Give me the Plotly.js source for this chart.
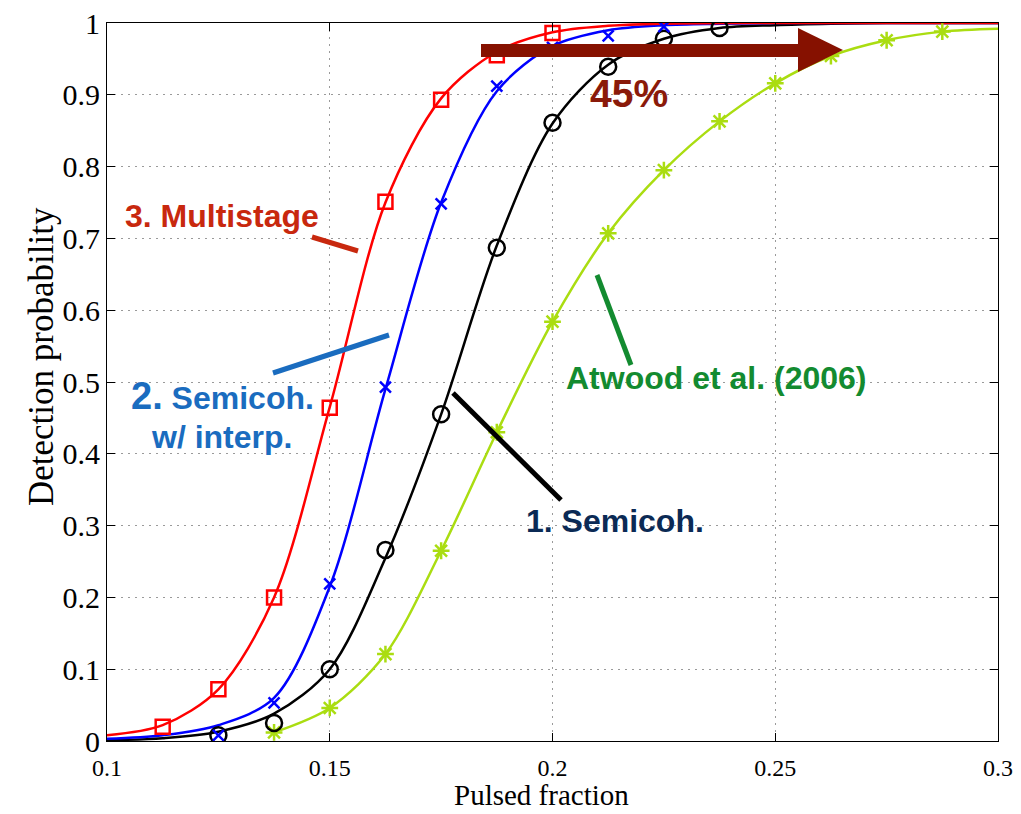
<!DOCTYPE html>
<html>
<head>
<meta charset="utf-8">
<script src="https://cdn.plot.ly/plotly-3.0.1.min.js"></script>
<style>html,body{margin:0;padding:0;background:#fff;}#chart{width:1021px;height:814px;}</style>
</head>
<body>
<div id="chart"></div>
<script>
// ---- data ----
const multiMarkX = [0.1125, 0.125, 0.1375, 0.15, 0.1625, 0.175, 0.1875, 0.2];
const multiMarkY = [0.02, 0.072, 0.2, 0.464, 0.751, 0.893, 0.955, 0.986];
const multiCurveX = [0.1, 0.1125, 0.125, 0.1375, 0.15, 0.1625, 0.175, 0.1875, 0.2, 0.2125, 0.225, 0.25, 0.3];
const multiCurveY = [0.008, 0.022, 0.072, 0.2, 0.465, 0.75, 0.895, 0.96, 0.987, 0.996, 0.999, 1, 1];

const interpMarkX = [0.125, 0.1375, 0.15, 0.1625, 0.175, 0.1875, 0.2, 0.2125, 0.225];
const interpMarkY = [0.008, 0.053, 0.219, 0.493, 0.748, 0.912, 0.966, 0.982, 0.995];
const interpCurveX = [0.1, 0.1125, 0.125, 0.1375, 0.15, 0.1625, 0.175, 0.1875, 0.2, 0.2125, 0.225, 0.2375, 0.25, 0.3];
const interpCurveY = [0.003, 0.008, 0.022, 0.06, 0.215, 0.49, 0.75, 0.905, 0.968, 0.99, 0.997, 0.999, 1, 1];

const semiMarkX = [0.125, 0.1375, 0.15, 0.1625, 0.175, 0.1875, 0.2, 0.2125, 0.225, 0.2375];
const semiMarkY = [0.008, 0.025, 0.1, 0.266, 0.455, 0.687, 0.861, 0.939, 0.978, 0.993];
const semiCurveX = [0.1, 0.1125, 0.125, 0.1375, 0.15, 0.1625, 0.175, 0.1875, 0.2, 0.2125, 0.225, 0.2375, 0.25, 0.2625, 0.275, 0.3];
const semiCurveY = [0.001, 0.004, 0.013, 0.038, 0.1, 0.255, 0.455, 0.69, 0.86, 0.942, 0.978, 0.993, 0.997, 0.999, 1, 1];

const atwoodMarkX = [0.1375, 0.15, 0.1625, 0.175, 0.1875, 0.2, 0.2125, 0.225, 0.2375, 0.25, 0.2625, 0.275, 0.2875];
const atwoodMarkY = [0.012, 0.046, 0.121, 0.265, 0.43, 0.584, 0.707, 0.795, 0.863, 0.916, 0.954, 0.976, 0.988];
const atwoodCurveX = [0.1375, 0.15, 0.1625, 0.175, 0.1875, 0.2, 0.2125, 0.225, 0.2375, 0.25, 0.2625, 0.275, 0.2875, 0.3];
const atwoodCurveY = [0.012, 0.046, 0.121, 0.265, 0.43, 0.584, 0.707, 0.795, 0.863, 0.916, 0.954, 0.976, 0.988, 0.992];

const xTickVals = [0.1, 0.15, 0.2, 0.25, 0.3];
const xTickText = ['0.1', '0.15', '0.2', '0.25', '0.3'];
const yTickVals = [0, 0.1, 0.2, 0.3, 0.4, 0.5, 0.6, 0.7, 0.8, 0.9, 1];
const yTickText = ['0', '0.1', '0.2', '0.3', '0.4', '0.5', '0.6', '0.7', '0.8', '0.9', '1'];
const xTitle = 'Pulsed fraction';
const yTitle = 'Detection probability';

// ---- styling ----
const RED = '#ff0000', BLUE = '#0000ff', BLACK = '#000000', GREEN = '#aadd11';
const SERIF = 'Liberation Serif, Times New Roman, serif';
const SANS = 'Liberation Sans, Arial, Helvetica, sans-serif';

// pixel -> data/paper helpers for decorations (plot area: x 107..998, y 741..23)
const X = px => 0.1 + (px - 107) / 891 * 0.2;
const Y = py => (741 - py) / 718;
const PX = px => (px - 107) / 891;

function curve(x, y, color) {
  return {x: x, y: y, type: 'scatter', mode: 'lines', hoverinfo: 'skip',
    line: {color: color, width: 2.5, shape: 'spline', smoothing: 0.9}, showlegend: false};
}
function marks(x, y, color, symbol, size) {
  return {x: x, y: y, type: 'scatter', mode: 'markers', showlegend: false,
    marker: {symbol: symbol, size: size, color: color, line: {color: color, width: 2.5}}};
}

const traces = [
  curve(atwoodCurveX, atwoodCurveY, GREEN),
  curve(semiCurveX, semiCurveY, BLACK),
  curve(interpCurveX, interpCurveY, BLUE),
  curve(multiCurveX, multiCurveY, RED),
  marks(atwoodMarkX, atwoodMarkY, GREEN, 'asterisk-open', 14),
  marks(semiMarkX, semiMarkY, BLACK, 'circle-open', 16),
  marks(interpMarkX, interpMarkY, BLUE, 'x-thin-open', 11),
  marks(multiMarkX, multiMarkY, RED, 'square-open', 14)
];

const ARROW = '#861100';
const shapes = [
  {type: 'line', x0: X(312), y0: Y(237), x1: X(358), y1: Y(251), line: {color: '#c8280e', width: 5}},
  {type: 'line', x0: X(273), y0: Y(373), x1: X(389), y1: Y(335), line: {color: '#1a6cbf', width: 5}},
  {type: 'line', x0: X(453), y0: Y(393), x1: X(561), y1: Y(500), line: {color: BLACK, width: 5}},
  {type: 'line', x0: X(597), y0: Y(275), x1: X(631), y1: Y(365), line: {color: '#138b30', width: 5}},
  {type: 'rect', x0: X(481), y0: Y(44), x1: X(800), y1: Y(57), fillcolor: ARROW, line: {width: 0}},
  {type: 'path', path: 'M ' + X(798) + ' ' + Y(28) + ' L ' + X(843) + ' ' + Y(50) + ' L ' + X(798) + ' ' + Y(72) + ' Z',
    fillcolor: ARROW, line: {width: 0}}
];

function ann(text, px, py, color, size) {
  return {text: text, x: X(px), y: Y(py), xref: 'x', yref: 'y', showarrow: false,
    xanchor: 'center', yanchor: 'middle', font: {family: SANS, size: size, color: color}};
}
const annotations = [
  ann('<b>3. Multistage</b>', 222, 216, '#c8280e', 32),
  ann('<b><span style="font-size:38px">2.</span> Semicoh.</b>', 222, 396, '#1a6cbf', 32),
  ann('<b>w/ interp.</b>', 221, 437, '#1a6cbf', 32),
  ann('<b>1. Semicoh.</b>', 615, 521, '#0b2a55', 32),
  ann('<b>Atwood et al. (2006)</b>', 716, 378, '#138b30', 32),
  ann('<b>45%</b>', 629, 93, '#8a1a0a', 39),
  // axis titles
  {text: xTitle, xref: 'paper', yref: 'paper', x: PX(541), y: Y(813), showarrow: false,
    xanchor: 'center', yanchor: 'bottom', font: {family: SERIF, size: 29, color: '#000'}},
  {text: yTitle, xref: 'paper', yref: 'paper', x: PX(41), y: Y(357), showarrow: false, textangle: -90,
    xanchor: 'center', yanchor: 'middle', font: {family: SERIF, size: 35, color: '#000'}}
];

const layout = {
  width: 1021, height: 814,
  margin: {l: 107, r: 23, t: 23, b: 73, pad: 0},
  paper_bgcolor: '#ffffff', plot_bgcolor: '#ffffff',
  showlegend: false,
  xaxis: {
    range: [0.1, 0.3], tickvals: xTickVals, ticktext: xTickText,
    showgrid: true, gridcolor: '#9a9a9a', griddash: '2px,5px', gridwidth: 1,
    zeroline: false, showline: true, linecolor: '#000', linewidth: 1, mirror: 'ticks',
    ticks: 'inside', ticklen: 8, tickcolor: '#000', ticklabelstandoff: 5,
    tickfont: {family: SERIF, size: 24, color: '#000'}
  },
  yaxis: {
    range: [0, 1], tickvals: yTickVals, ticktext: yTickText,
    showgrid: true, gridcolor: '#9a9a9a', griddash: '2px,5px', gridwidth: 1,
    zeroline: false, showline: true, linecolor: '#000', linewidth: 1, mirror: 'ticks',
    ticks: 'inside', ticklen: 8, tickcolor: '#000',
    tickfont: {family: SERIF, size: 30, color: '#000'}
  },
  shapes: shapes,
  annotations: annotations
};

Plotly.newPlot('chart', traces, layout, {displayModeBar: false, staticPlot: true});
</script>
</body>
</html>
